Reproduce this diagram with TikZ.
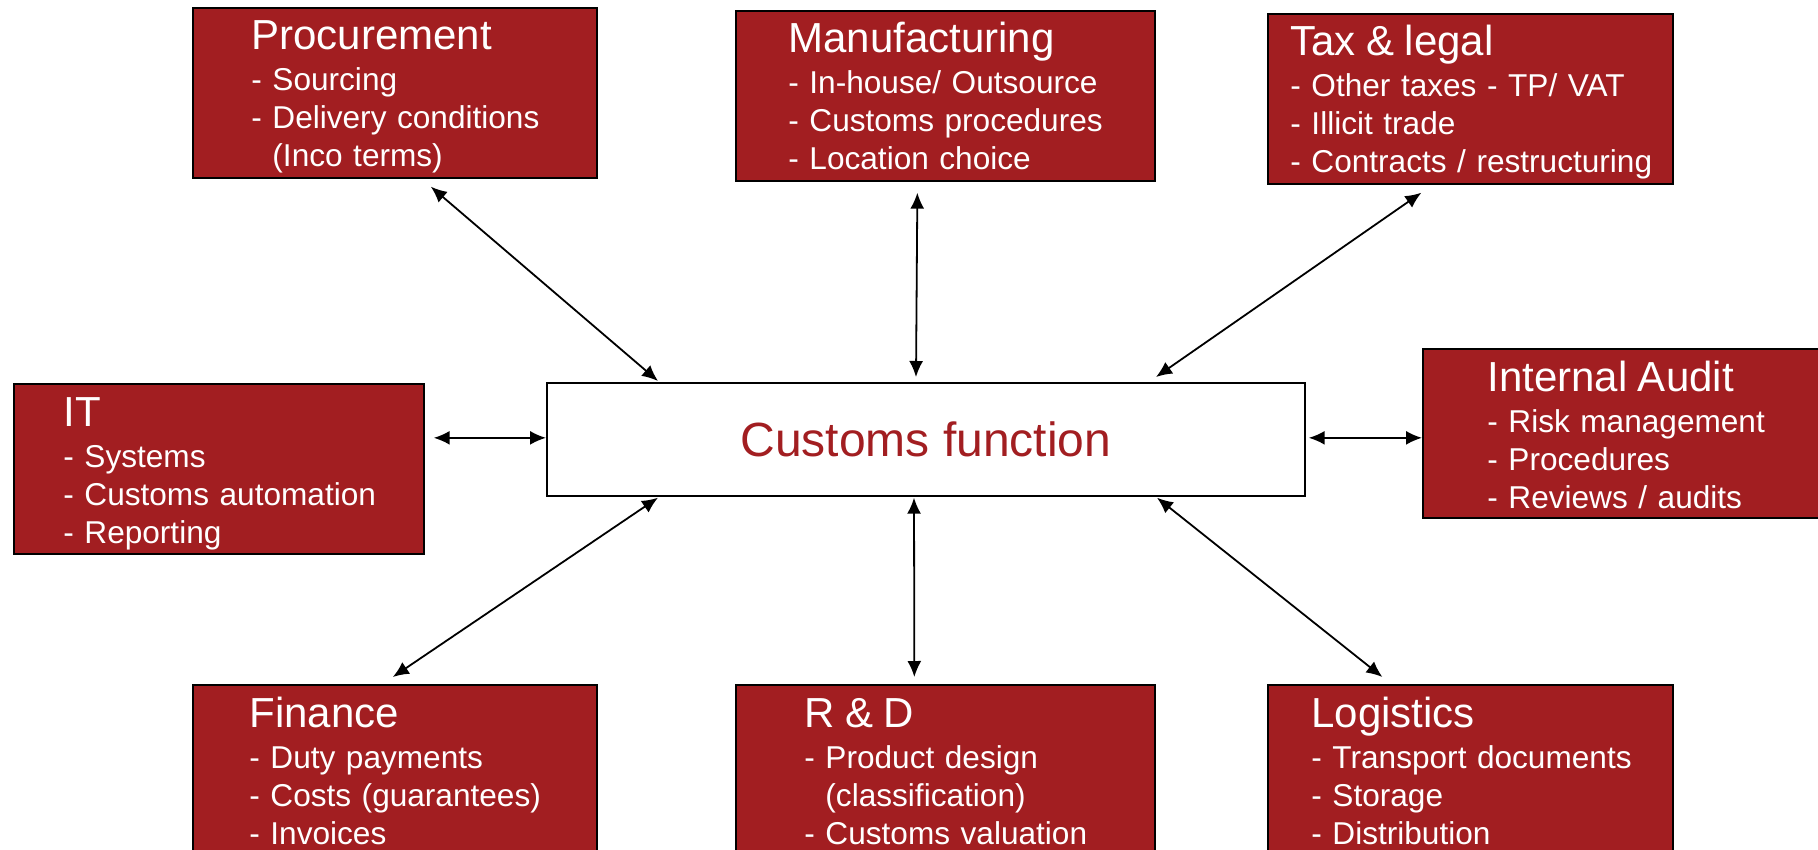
\documentclass[tikz,border=0pt]{standalone}
\usepackage{fontspec}
\setmainfont{Liberation Sans}
\usetikzlibrary{arrows.meta}
\definecolor{deptRed}{HTML}{A21E21}

\tikzset{
  deptbox/.style={draw=black, line width=0.85pt, fill=deptRed, anchor=north west,
    inner sep=0pt, minimum height=85pt},
  depttext/.style={anchor=base west, inner sep=0pt, text=white, text width=200pt,
    align=left, font=\fontsize{15.8}{19}\selectfont},
  link/.style={line width=0.9pt,
    {Latex[length=8pt,width=7pt]}-{Latex[length=8pt,width=7pt]}}
}
\newcommand{\deptTitle}[1]{{\fontsize{21}{19}\selectfont #1}}

\begin{document}
\begin{tikzpicture}[x=0.5pt, y=-0.5pt]
%--------------------------------------------------
\useasboundingbox (0,0) rectangle (1818,850);
\clip (0,0) rectangle (1818,850);

% centre box
\node[draw=black, line width=0.85pt, fill=white, anchor=north west, inner sep=0pt,
  minimum width=379pt, minimum height=56.5pt, text=deptRed,
  font=\fontsize{24}{28}\selectfont] (cf) at (546,382) {Customs function};

% top row of departments
\node[deptbox, minimum width=202pt] (proc) at (192,7) {};
\node[depttext] (procText) at ([shift={(59,43)}]proc.north west)
  {\deptTitle{Procurement}\\[1.5pt]
   - Sourcing\\
   - Delivery conditions\\
   \hphantom{- }(Inco terms)};

\node[deptbox, minimum width=209.5pt] (manu) at (735,10) {};
\node[depttext] (manuText) at ([shift={(53,43)}]manu.north west)
  {\deptTitle{Manufacturing}\\[1.5pt]
   - In-house/ Outsource\\
   - Customs procedures\\
   - Location choice};

\node[deptbox, minimum width=202.5pt] (tax) at (1267,13) {};
\node[depttext] (taxText) at ([shift={(23,43)}]tax.north west)
  {\deptTitle{Tax \& legal}\\[1.5pt]
   - Other taxes - TP/ VAT\\
   - Illicit trade\\
   - Contracts / restructuring};

% middle row
\node[deptbox, minimum width=205pt] (it) at (13,383) {};
\node[depttext] (itText) at ([shift={(50,43)}]it.north west)
  {\deptTitle{IT}\\[1.5pt]
   - Systems\\
   - Customs automation\\
   - Reporting};

\node[deptbox, minimum width=210pt, minimum height=84.5pt] (audit) at (1422,348) {};
\node[depttext] (auditText) at ([shift={(65,43)}]audit.north west)
  {\deptTitle{Internal Audit}\\[1.5pt]
   - Risk management\\
   - Procedures\\
   - Reviews / audits};

% bottom row (runs off the page)
\node[deptbox, minimum width=202pt, minimum height=95pt] (fin) at (192,684) {};
\node[depttext] (finText) at ([shift={(57,43)}]fin.north west)
  {\deptTitle{Finance}\\[1.5pt]
   - Duty payments\\
   - Costs (guarantees)\\
   - Invoices};

\node[deptbox, minimum width=209.5pt, minimum height=95pt] (rd) at (735,684) {};
\node[depttext] (rdText) at ([shift={(69,43)}]rd.north west)
  {\deptTitle{R \& D}\\[1.5pt]
   - Product design\\
   \hphantom{- }(classification)\\
   - Customs valuation};

\node[deptbox, minimum width=202.5pt, minimum height=95pt] (logi) at (1267,684) {};
\node[depttext] (logiText) at ([shift={(44,43)}]logi.north west)
  {\deptTitle{Logistics}\\[1.5pt]
   - Transport documents\\
   - Storage\\
   - Distribution};

% two-way links to the customs function
\draw[link] ([shift={(36,8)}]proc.south) -- ([shift={(112,-1)}]cf.north west);
\draw[link] ([shift={(-28,11)}]manu.south) -- ([shift={(370,-5)}]cf.north west);
\draw[link] ([shift={(-49,8)}]tax.south) -- ([shift={(610,-5)}]cf.north west);
\draw[link] ([shift={(9,-31)}]it.east) -- ([shift={(0,-1.5)}]cf.west);
\draw[link] ([shift={(3,-1.5)}]cf.east) -- ([shift={(0,4.5)}]audit.west);
\draw[link] ([shift={(-2,-7)}]fin.north) -- ([shift={(112,1)}]cf.south west);
\draw[link] ([shift={(-31,-7)}]rd.north) -- ([shift={(368,1)}]cf.south west);
\draw[link] ([shift={(-88,-7)}]logi.north) -- ([shift={(611,1)}]cf.south west);

%--------------------------------------------------
\end{tikzpicture}
\end{document}
